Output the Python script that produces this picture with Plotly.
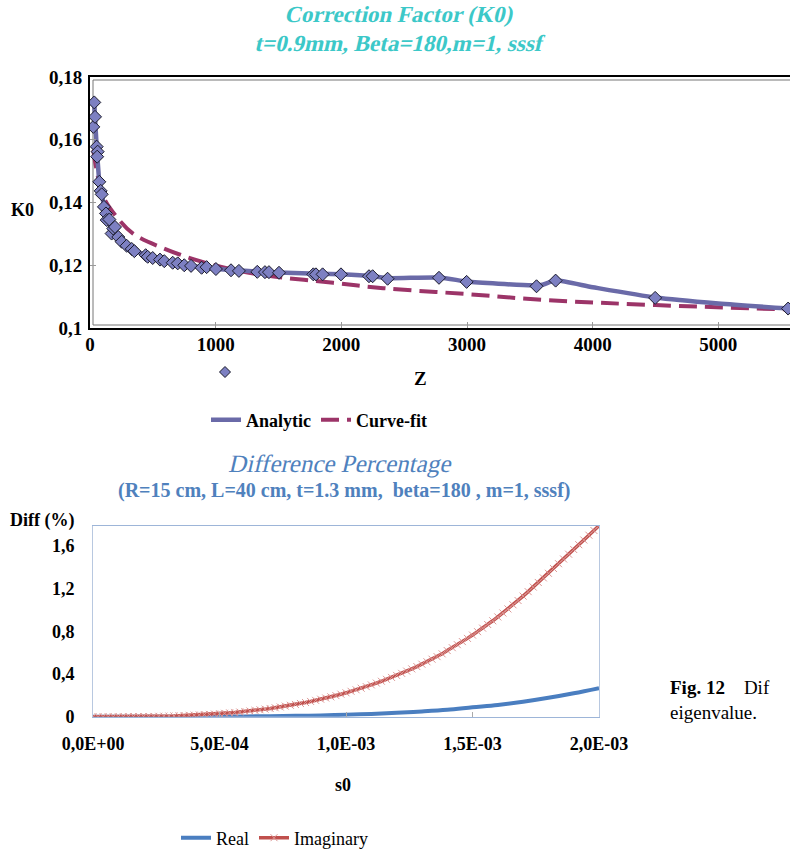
import plotly.graph_objects as go

W, H = 790, 852

# ---------------- Chart 1 data: Correction Factor (K0) ----------------
analytic_z = [26, 34, 40, 53, 61, 57, 74, 85, 93, 111, 127, 133, 154, 172, 185, 199, 225, 252,
              292, 332, 353, 443, 459, 499, 557, 591, 658, 698, 750, 804, 888, 928, 1002, 1122,
              1185, 1331, 1392, 1424, 1504, 1777, 1798, 1851, 1997, 2220, 2249, 2368, 2777,
              2997, 3553, 3705, 4497, 5555]
analytic_k = [0.1641, 0.1719, 0.1673, 0.1578, 0.1562, 0.1546, 0.1466, 0.1437, 0.1426, 0.1386,
              0.1365, 0.1344, 0.1346, 0.1301, 0.1317, 0.1322, 0.1290, 0.1275, 0.1262, 0.1252,
              0.1245, 0.1232, 0.1227, 0.1223, 0.1218, 0.1213, 0.1208, 0.1206, 0.1200, 0.1198,
              0.1192, 0.1194, 0.1188, 0.1184, 0.1182, 0.1179, 0.1178, 0.1178, 0.1176, 0.1171,
              0.1171, 0.1171, 0.1171, 0.1165, 0.1165, 0.1157, 0.1160, 0.1147, 0.1133, 0.1151,
              0.1096, 0.1062]

# path of the smoothed analytic line
analytic_line_z = [34, 40, 53, 74, 93, 111, 133, 160, 200, 250, 300, 353, 450, 560, 700, 800,
                   1000, 1200, 1500, 2000, 2250, 2370, 2780, 3000, 3250, 3520, 3600, 3705, 4000,
                   4500, 5000, 5570]
analytic_line_k = [0.1719, 0.1670, 0.1580, 0.1468, 0.1428, 0.1390, 0.1350, 0.1325, 0.1300,
                   0.1277, 0.1261, 0.1247, 0.1232, 0.1218, 0.1206, 0.1198, 0.1189, 0.1183,
                   0.1177, 0.1171, 0.1165, 0.1159, 0.1161, 0.1148, 0.1141, 0.1136, 0.1138,
                   0.1151, 0.1130, 0.1097, 0.1078, 0.1062]

curvefit_z = [26, 53, 106, 212, 345, 610, 875, 1140, 1405, 1935, 2333, 3000, 3633, 4500, 5570]
curvefit_k = [0.1567, 0.1503, 0.1418, 0.1354, 0.1300, 0.1250, 0.1213, 0.1186, 0.1167, 0.1144,
              0.1127, 0.1108, 0.1089, 0.1073, 0.1059]

k0_tickvals = [0.1, 0.12, 0.14, 0.16, 0.18]
k0_ticktext = ["0,1", "0,12", "0,14", "0,16", "0,18"]
z_tickvals = [0, 1000, 2000, 3000, 4000, 5000]

# ---------------- Chart 2 data: Difference Percentage ----------------
real_s0 = [0.0, 0.1e-3, 0.2e-3, 0.3e-3, 0.4e-3, 0.5e-3, 0.6e-3, 0.7e-3, 0.8e-3, 0.9e-3, 1.0e-3,
           1.1e-3, 1.2e-3, 1.3e-3, 1.4e-3, 1.5e-3, 1.6e-3, 1.7e-3, 1.8e-3, 1.9e-3, 2.0e-3]
real_diff = [0, 0, 0, 0, 0.001, 0.002, 0.003, 0.005, 0.008, 0.012, 0.018, 0.026, 0.036, 0.049,
             0.065, 0.088, 0.110, 0.140, 0.177, 0.220, 0.268]

imag_s0 = [i * 2e-5 for i in range(101)]
imag_diff = [0, 0, 0, 0, 0, 0, 0, 0.001, 0.001, 0.001,
             0.002, 0.002, 0.003, 0.004, 0.005, 0.006, 0.007, 0.009, 0.011, 0.013,
             0.015, 0.017, 0.020, 0.022, 0.025, 0.028, 0.032, 0.036, 0.040, 0.044,
             0.049, 0.054, 0.059, 0.065, 0.071, 0.077, 0.084, 0.091, 0.099, 0.107,
             0.115, 0.124, 0.133, 0.143, 0.153, 0.164, 0.175, 0.186, 0.198, 0.211,
             0.224, 0.238, 0.252, 0.267, 0.282, 0.298, 0.315, 0.332, 0.350, 0.368,
             0.387, 0.406, 0.427, 0.448, 0.470, 0.492, 0.515, 0.539, 0.563, 0.589,
             0.620, 0.647, 0.675, 0.704, 0.734, 0.765, 0.797, 0.830, 0.864, 0.899,
             0.935, 0.972, 1.010, 1.049, 1.089, 1.130, 1.172, 1.215, 1.258, 1.301,
             1.344, 1.389, 1.434, 1.478, 1.523, 1.567, 1.612, 1.656, 1.701, 1.745,
             1.790]

diff_tickvals = [0, 0.4, 0.8, 1.2, 1.6]
diff_ticktext = ["0", "0,4", "0,8", "1,2", "1,6"]
s0_tickvals = [0, 5e-4, 1e-3, 1.5e-3, 2e-3]
s0_ticktext = ["0,0E+00", "5,0E-04", "1,0E-03", "1,5E-03", "2,0E-03"]


def px(x):
    return x / W


def py(y):
    return 1 - y / H


SERIF = "Liberation Serif"
fig = go.Figure()

# Chart 1 traces
fig.add_trace(go.Scatter(x=curvefit_z, y=curvefit_k, mode="lines", name="Curve-fit",
                         line=dict(color="#9c3468", width=4, dash="18px,8px", shape="spline"),
                         xaxis="x", yaxis="y", legend="legend", legendrank=2))
fig.add_trace(go.Scatter(x=analytic_line_z, y=analytic_line_k, mode="lines", name="Analytic",
                         line=dict(color="#6a6aa8", width=4.5, shape="spline", smoothing=0.6),
                         xaxis="x", yaxis="y", legend="legend", legendrank=1))
fig.add_trace(go.Scatter(x=analytic_z, y=analytic_k, mode="markers", showlegend=False,
                         marker=dict(symbol="diamond", size=10, color="#7d80c2",
                                     line=dict(color="#1a1a2a", width=1)),
                         xaxis="x", yaxis="y"))

# Chart 2 traces
fig.add_trace(go.Scatter(x=real_s0, y=real_diff, mode="lines", name="Real",
                         line=dict(color="#4a7ec0", width=4, shape="spline"),
                         xaxis="x2", yaxis="y2", legend="legend2", legendrank=1))
fig.add_trace(go.Scatter(x=imag_s0, y=imag_diff, mode="lines+markers", name="Imaginary",
                         line=dict(color="#c0504d", width=3.5),
                         marker=dict(symbol="x-thin", size=7, color="#dc9896",
                                     line=dict(width=1, color="#dc9896")),
                         xaxis="x2", yaxis="y2", legend="legend2", legendrank=2))

tickfont1 = dict(family=SERIF, size=19, color="black", weight="bold")
tickfont2 = dict(family=SERIF, size=18, color="black", weight="bold")

fig.update_layout(
    width=W, height=H,
    margin=dict(l=0, r=0, t=0, b=0, autoexpand=False),
    paper_bgcolor="white", plot_bgcolor="white",
    xaxis=dict(domain=[px(90), 1.0], range=[0, 5570], tickvals=z_tickvals,
               ticks="inside", ticklen=6, tickcolor="#999", showline=True, linecolor="black",
               linewidth=2, mirror=True, showgrid=False, zeroline=False, tickfont=tickfont1,
               anchor="y", automargin=False, ticklabelstandoff=-2),
    yaxis=dict(domain=[py(328), py(77)], range=[0.1, 0.18], tickvals=k0_tickvals,
               ticktext=k0_ticktext, ticks="inside", ticklen=6, tickcolor="#999",
               showline=True, linecolor="black", linewidth=2, mirror=True, showgrid=False,
               zeroline=False, tickfont=tickfont1, anchor="x", automargin=False,
               ticklabelstandoff=2),
    xaxis2=dict(domain=[px(93), px(599)], range=[0, 0.002], tickvals=s0_tickvals,
                ticktext=s0_ticktext, ticks="inside", ticklen=5, tickcolor="#aaa",
                showline=True, linecolor="#9db5d8", linewidth=1, mirror=True, showgrid=False,
                zeroline=False, tickfont=tickfont2, anchor="y2", automargin=False,
                ticklabelstandoff=11),
    yaxis2=dict(domain=[py(716.7), py(525.7)], range=[0, 1.79], tickvals=diff_tickvals,
                ticktext=diff_ticktext, ticks="", showline=True, linecolor="#b8c8e0",
                linewidth=1, mirror=True, showgrid=False, zeroline=False, tickfont=tickfont2,
                anchor="x2", automargin=False, ticklabelstandoff=14),
    legend=dict(x=px(206), y=py(420), xanchor="left", yanchor="middle", orientation="h",
                font=dict(family=SERIF, size=18, color="black", weight="bold"),
                bgcolor="rgba(0,0,0,0)", itemwidth=30, traceorder="normal"),
    legend2=dict(x=px(176), y=py(838), xanchor="left", yanchor="middle", orientation="h",
                 font=dict(family=SERIF, size=18, color="black"),
                 bgcolor="rgba(0,0,0,0)", itemwidth=30, traceorder="normal"),
    showlegend=True,
)

ann = []
teal = "#3cc8c8"
ann.append(dict(x=px(400), y=py(15), text="<b>Correction Factor (K0)</b>",
                font=dict(family=SERIF, size=23, color=teal)))
ann.append(dict(x=px(400), y=py(44), text="<b>t=0.9mm, Beta=180,m=1, sssf</b>",
                font=dict(family=SERIF, size=23, color=teal)))
ann.append(dict(x=px(22), y=py(210), text="<b>K0</b>",
                font=dict(family=SERIF, size=18, color="black")))
ann.append(dict(x=px(421), y=py(378), text="<b>Z</b>",
                font=dict(family=SERIF, size=19, color="black")))
blue = "#4f81bd"
ann.append(dict(x=px(341), y=py(463), text="Difference Percentage",
                font=dict(family=SERIF, size=25, color=blue)))
ann.append(dict(x=px(344), y=py(490),
                text="<b>(R=15 cm, L=40 cm, t=1.3 mm,  beta=180 , m=1, sssf)</b>",
                font=dict(family=SERIF, size=20, color=blue)))
ann.append(dict(x=px(42), y=py(520), text="<b>Diff (%)</b>",
                font=dict(family=SERIF, size=18, color="black")))
ann.append(dict(x=px(343), y=py(785), text="<b>s0</b>",
                font=dict(family=SERIF, size=18, color="black")))
ann.append(dict(x=px(668), y=py(700), xanchor="left",
                text="<b>Fig. 12</b>    Dif<br>eigenvalue.", align="left",
                font=dict(family=SERIF, size=19, color="black")))
for a in ann:
    a.setdefault("xanchor", "center")
    a.update(xref="paper", yref="paper", yanchor="middle", showarrow=False)
fig.update_layout(annotations=ann)

# decorations: inner frame line of chart 1 and stray legend diamond
cx, cy, r = 225, 372, 5.5
diamond = (f"M {px(cx)} {py(cy - r)} L {px(cx + r)} {py(cy)} L {px(cx)} {py(cy + r)} "
           f"L {px(cx - r)} {py(cy)} Z")
fig.update_layout(shapes=[
    dict(type="rect", xref="paper", yref="paper", x0=px(93), x1=1.01, y0=py(325), y1=py(80),
         line=dict(color="#777", width=1), layer="below"),
    dict(type="path", xref="paper", yref="paper", path=diamond,
         fillcolor="#7d80c2", line=dict(color="#1a1a2a", width=1)),
])

# page margin off; the installed serif families have no italic face, so slant the italic titles
post_js = """
document.body.style.margin = '0';
var titles = ['Correction Factor (K0)', 't=0.9mm, Beta=180,m=1, sssf', 'Difference Percentage'];
document.querySelectorAll('text.annotation-text').forEach(function(t){
  if (titles.indexOf(t.textContent.trim()) >= 0) {
    t.style.transformBox = 'fill-box';
    t.style.transformOrigin = 'center';
    t.style.transform = 'skewX(-13deg)';
  }
});
"""
fig.write_html("out.html", post_script=post_js, config={"displayModeBar": False})
